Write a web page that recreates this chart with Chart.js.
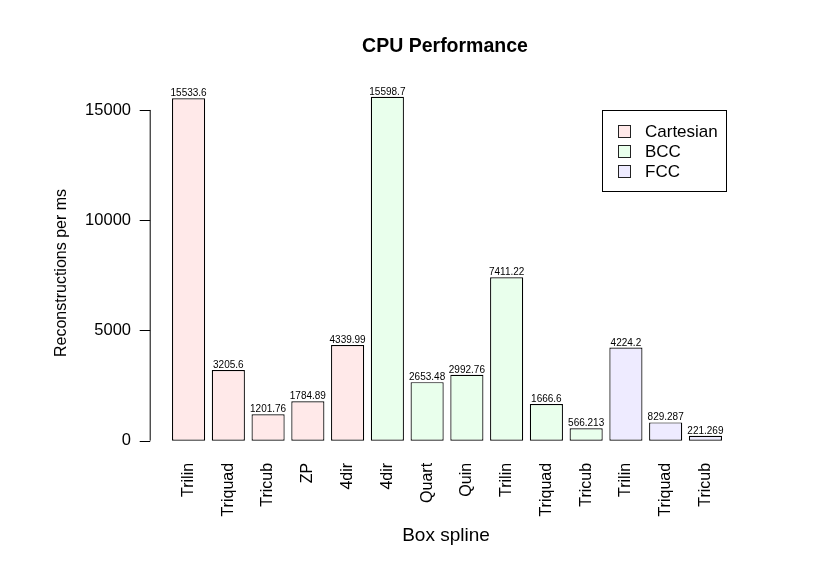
<!DOCTYPE html>
<html>
<head>
<meta charset="utf-8">
<script src="https://cdn.jsdelivr.net/npm/chart.js@4"></script>
<style>
  html, body { margin: 0; padding: 0; background: #fff; }
  #wrap { width: 837px; height: 565px; position: relative; }
</style>
</head>
<body>
<div id="wrap"><canvas id="cpuChart"></canvas></div>
<script>
const categories = ['Trilin', 'Triquad', 'Tricub', 'ZP', '4dir',
                    '4dir', 'Quart', 'Quin', 'Trilin', 'Triquad', 'Tricub',
                    'Trilin', 'Triquad', 'Tricub'];
const values     = [15533.6, 3205.6, 1201.76, 1784.89, 4339.99,
                    15598.7, 2653.48, 2992.76, 7411.22, 1666.6, 566.213,
                    4224.2, 829.287, 221.269];
const groupOf    = ['Cartesian', 'Cartesian', 'Cartesian', 'Cartesian', 'Cartesian',
                    'BCC', 'BCC', 'BCC', 'BCC', 'BCC', 'BCC',
                    'FCC', 'FCC', 'FCC'];
const groups     = ['Cartesian', 'BCC', 'FCC'];
const groupFill  = ['#ffe9e9', '#e9ffec', '#eeebff'];
const yTicks     = [0, 5000, 10000, 15000];

const FONT = '"Liberation Sans", Arial, Helvetica, sans-serif';

const datasets = groups.map((g, gi) => ({
  label: g,
  data: values.map((v, i) => groupOf[i] === g ? v : null),
  backgroundColor: groupFill[gi],
  borderColor: '#000',
  borderWidth: 1.2,
  borderSkipped: false,
  barPercentage: 0.833,
  categoryPercentage: 1.0
}));

// R-style extras: detached y axis, value labels, legend box, titles
const rStyle = {
  id: 'rStyle',
  afterDatasetsDraw(chart) {
    const ctx = chart.ctx;
    const y = chart.scales.y;
    const axX = chart.chartArea.left - 19;
    ctx.save();
    ctx.strokeStyle = '#000';
    ctx.lineWidth = 1;
    ctx.beginPath();
    ctx.moveTo(axX + 0.5, y.getPixelForValue(yTicks[0]));
    ctx.lineTo(axX + 0.5, y.getPixelForValue(yTicks[yTicks.length - 1]));
    yTicks.forEach(t => {
      const py = Math.round(y.getPixelForValue(t)) + 0.5;
      ctx.moveTo(axX - 10, py);
      ctx.lineTo(axX + 0.5, py);
    });
    ctx.stroke();

    // value labels above bars
    ctx.fillStyle = '#000';
    ctx.font = '10px ' + FONT;
    ctx.textAlign = 'center';
    ctx.textBaseline = 'alphabetic';
    chart.data.datasets.forEach((ds, di) => {
      const meta = chart.getDatasetMeta(di);
      meta.data.forEach((bar, i) => {
        if (ds.data[i] == null) return;
        ctx.fillText(String(ds.data[i]), bar.x, bar.y - 2);
      });
    });

    // legend
    const lx = 602.5, ly = 110.5, lw = 124, lh = 81;
    ctx.strokeStyle = '#000';
    ctx.strokeRect(lx, ly, lw, lh);
    ctx.font = '17px ' + FONT;
    ctx.textAlign = 'left';
    ctx.textBaseline = 'middle';
    chart.data.datasets.forEach((ds, di) => {
      const cy = 131.5 + di * 20;
      ctx.fillStyle = ds.backgroundColor;
      ctx.fillRect(618.5, cy - 6, 12, 12);
      ctx.strokeStyle = '#222';
      ctx.strokeRect(618.5, cy - 6, 12, 12);
      ctx.fillStyle = '#000';
      ctx.fillText(ds.label, 645, cy + 1);
    });

    // titles
    ctx.textAlign = 'center';
    ctx.textBaseline = 'alphabetic';
    ctx.font = 'bold 19.5px ' + FONT;
    ctx.fillText('CPU Performance', 445, 51.5);
    ctx.font = '19px ' + FONT;
    ctx.fillText('Box spline', 446, 541);
    ctx.translate(66, 273);
    ctx.rotate(-Math.PI / 2);
    ctx.font = '16px ' + FONT;
    ctx.fillText('Reconstructions per ms', 0, 0);
    ctx.restore();
  }
};

new Chart(document.getElementById('cpuChart'), {
  type: 'bar',
  data: { labels: categories, datasets },
  options: {
    responsive: true,
    maintainAspectRatio: false,
    animation: false,
    layout: { padding: { left: 0, right: 111.7, top: 83.5, bottom: 0 } },
    plugins: {
      legend: { display: false },
      title: { display: false },
      tooltip: { enabled: false }
    },
    scales: {
      x: {
        stacked: true,
        grid: { display: false },
        border: { display: false },
        ticks: {
          color: '#000',
          font: { family: FONT, size: 16 },
          minRotation: 90,
          maxRotation: 90,
          autoSkip: false,
          padding: 1
        },
        afterFit(scale) { scale.height = 565 - 453.9; }
      },
      y: {
        stacked: true,
        min: -600,
        max: 16200,
        grid: { display: false },
        border: { display: false },
        afterBuildTicks(scale) { scale.ticks = yTicks.map(v => ({ value: v })); },
        ticks: {
          color: '#000',
          font: { family: FONT, size: 16.5 },
          padding: 29.7,
          callback: v => String(v)
        },
        afterFit(scale) { scale.width = 168.7; }
      }
    }
  },
  plugins: [rStyle]
});
</script>
</body>
</html>
